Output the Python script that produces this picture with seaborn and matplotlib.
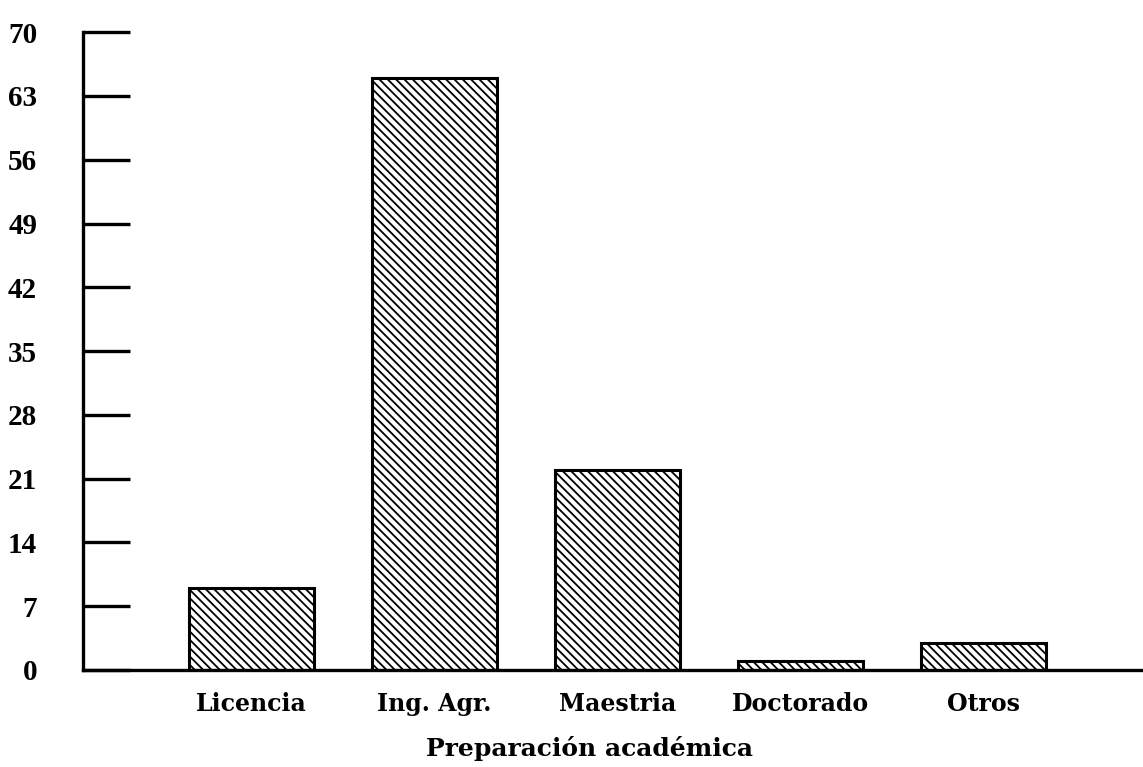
import matplotlib
matplotlib.use("Agg")
import matplotlib.pyplot as plt
import seaborn as sns

categories = ["Licencia", "Ing. Agr.", "Maestria", "Doctorado", "Otros"]
values = [9, 65, 22, 1, 3]
y_ticks = [0, 7, 14, 21, 28, 35, 42, 49, 56, 63, 70]


def main() -> None:
    sns.set_style("white")
    plt.rcParams["font.family"] = ["DejaVu Serif", "Liberation Serif"]
    plt.rcParams["font.weight"] = "bold"
    plt.rcParams["text.color"] = "black"
    plt.rcParams["xtick.color"] = "black"
    plt.rcParams["ytick.color"] = "black"
    plt.rcParams["hatch.linewidth"] = 1.3

    fig = plt.figure(figsize=(11.43, 7.67), dpi=100)
    ax = fig.add_axes([0.0726, 0.1265, 0.9274, 0.8315])

    sns.barplot(x=categories, y=values, color="white", edgecolor="black",
                linewidth=2.2, width=0.68, hatch="\\\\\\\\", ax=ax)

    ax.set_xlim(-0.92, 4.87)
    ax.set_ylim(0, 70)
    ax.set_yticks(y_ticks)
    ax.set_yticklabels([str(t) for t in y_ticks], fontsize=21,
                       fontweight="bold", family="Liberation Serif")
    ax.tick_params(axis="y", left=True, direction="in", length=34, width=2.4,
                   pad=33, color="black", labelcolor="black")
    ax.tick_params(axis="x", bottom=False, length=0, pad=16, labelsize=17,
                   labelcolor="black")
    for lab in ax.get_xticklabels():
        lab.set_fontweight("bold")

    sns.despine(ax=ax)
    for side in ["left", "bottom"]:
        ax.spines[side].set_linewidth(2.4)
        ax.spines[side].set_color("black")

    ax.set_xlabel("Preparación académica", fontsize=18, fontweight="bold",
                  color="black")
    ax.xaxis.set_label_coords(0.478, -0.103)
    ax.set_ylabel("")

    fig.savefig("out.png", dpi=100)


if __name__ == "__main__":
    main()
